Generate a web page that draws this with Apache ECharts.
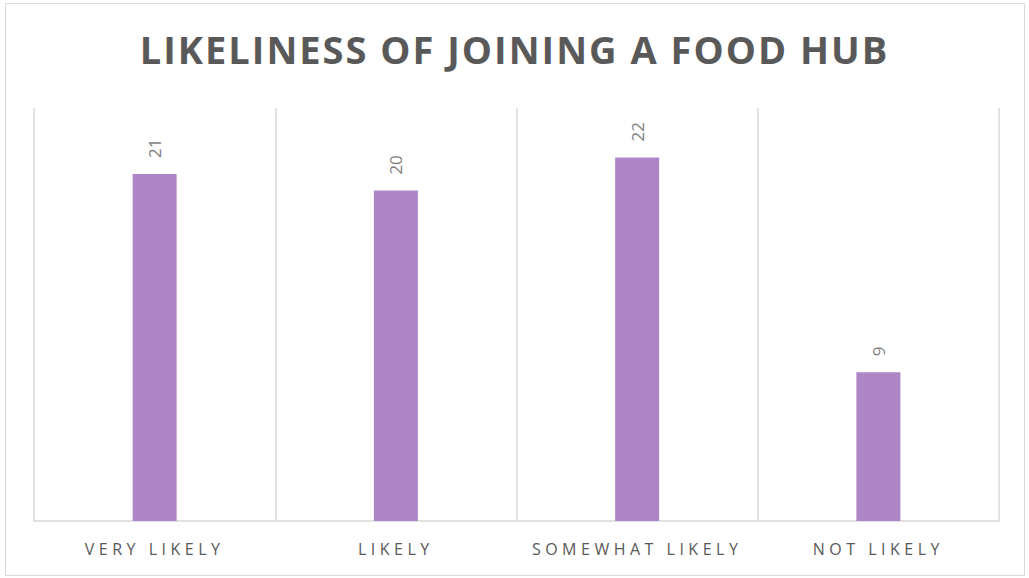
<!DOCTYPE html>
<html>
<head>
<meta charset="utf-8">
<script src="https://cdn.jsdelivr.net/npm/echarts@6/dist/echarts.min.js"></script>
<style>
  html, body { margin: 0; padding: 0; background: #ffffff; }
  #chart { width: 1029px; height: 578px; }
</style>
</head>
<body>
<div id="chart"></div>
<script>
// Survey responses: how likely respondents are to join a food hub
const chartTitle = 'LIKELINESS OF JOINING A FOOD HUB';
const categories = ['VERY LIKELY', 'LIKELY', 'SOMEWHAT LIKELY', 'NOT LIKELY'];
const responses = [21, 20, 22, 9];

const chart = echarts.init(document.getElementById('chart'), null, { renderer: 'svg' });

chart.setOption({
  animation: false,
  backgroundColor: '#ffffff',
  title: {
    text: chartTitle,
    left: 'center',
    top: 25,
    textStyle: {
      fontFamily: 'Open Sans',
      fontWeight: 'bold',
      fontSize: 38,
      color: '#595959'
    }
  },
  graphic: [{
    type: 'rect',
    shape: { x: 5.5, y: 3.5, width: 1019, height: 572 },
    style: { fill: 'none', stroke: '#d9d9d9', lineWidth: 1 },
    silent: true
  }],
  grid: { left: 34, right: 30, top: 108, bottom: 57, containLabel: false },
  xAxis: {
    type: 'category',
    data: categories,
    axisLine: { show: true, lineStyle: { color: '#d9d9d9', width: 1.5 } },
    axisTick: { show: false },
    splitLine: { show: true, lineStyle: { color: '#d9d9d9', width: 1.5 } },
    axisLabel: {
      fontFamily: 'Open Sans',
      fontSize: 16,
      color: '#595959',
      margin: 20
    }
  },
  yAxis: {
    type: 'value',
    min: 0,
    max: 25,
    show: false,
    splitLine: { show: false }
  },
  series: [{
    type: 'bar',
    data: responses,
    barWidth: 44,
    itemStyle: { color: '#ae85c6' },
    label: {
      show: true,
      position: 'top',
      rotate: 90,
      align: 'left',
      verticalAlign: 'middle',
      distance: 16,
      fontFamily: 'Open Sans',
      fontSize: 17,
      color: '#7f7f7f'
    }
  }]
});

// Tracked-out lettering for the title and the category names
function applyTracking() {
  const texts = document.querySelectorAll('#chart svg text');
  texts.forEach(function (t) {
    const s = t.textContent;
    if (s === chartTitle) {
      t.style.letterSpacing = '2px';
    } else if (categories.indexOf(s) >= 0) {
      t.style.letterSpacing = '4.5px';
    }
  });
}
chart.on('finished', applyTracking);
applyTracking();
</script>
</body>
</html>
